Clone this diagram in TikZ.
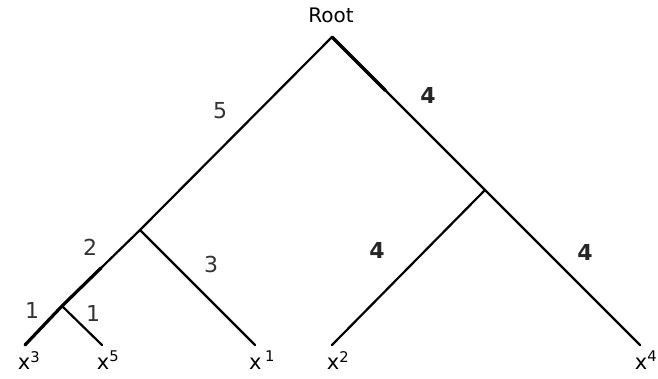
\documentclass[tikz,border=0pt]{standalone}
\usepackage{fontspec}
\setmainfont{DejaVu Sans}
\usetikzlibrary{calc}
\begin{document}
\begin{tikzpicture}[x=1pt, y=-1pt,
    branch/.style={line width=2.2pt, line cap=round},
    heavy/.style={line width=3.2pt, line cap=round},
    weight/.style={font=\fontsize{22}{24}\selectfont, text=black!80},
    bweight/.style={font=\fontsize{22}{24}\selectfont\bfseries, text=black!85},
    leaf/.style={font=\fontsize{21}{23}\selectfont, anchor=north, inner sep=0pt, yshift=-6pt}]
    \useasboundingbox (0,0) rectangle (658,378);

    % internal vertices
    \coordinate (root) at (332,37);
    \coordinate (u) at (140,230);
    \coordinate (v) at (62,306);
    \coordinate (w) at (485,190);

    % leaf ends
    \coordinate (l3) at (25,345);
    \coordinate (l5) at (102,345);
    \coordinate (l1) at (255,345);
    \coordinate (l2) at (332,345);
    \coordinate (l4) at (640,345);

    \node[font=\fontsize{20}{22}\selectfont] (rootlabel) at (331,15) {Root};

    % branches
    \draw[branch] (root) -- (u) -- (v) -- (l3);
    \draw[branch] (v) -- (l5);
    \draw[branch] (u) -- (l1);
    \draw[branch] (root) -- (w) -- (l4);
    \draw[branch] (w) -- (l2);

    % heavier strokes
    \draw[heavy] (l3) -- (v) -- ($(v)!0.5!(u)$);
    \draw[heavy] (root) -- ($(root)!0.35!(w)$);

    % branch weights
    \node[weight] (e5) at (220,111) {5};
    \node[bweight] (e4a) at (428,95) {4};
    \node[weight] (e2) at (90,247) {2};
    \node[weight] (e3) at (211,264) {3};
    \node[weight] (e1a) at (32,310) {1};
    \node[weight] (e1b) at (93,313) {1};
    \node[bweight] (e4b) at (377,250) {4};
    \node[bweight] (e4c) at (585,252) {4};

    % leaf labels
    \node[leaf, xshift=4pt] (x3) at (l3) {x\textsuperscript{3}};
    \node[leaf, xshift=6pt] (x5) at (l5) {x\textsuperscript{5}};
    \node[leaf, xshift=7pt] (x1) at (l1) {x\,\textsuperscript{1}};
    \node[leaf, xshift=6pt] (x2) at (l2) {x\textsuperscript{2}};
    \node[leaf, xshift=6pt] (x4) at (l4) {x\textsuperscript{4}};
\end{tikzpicture}
\end{document}
